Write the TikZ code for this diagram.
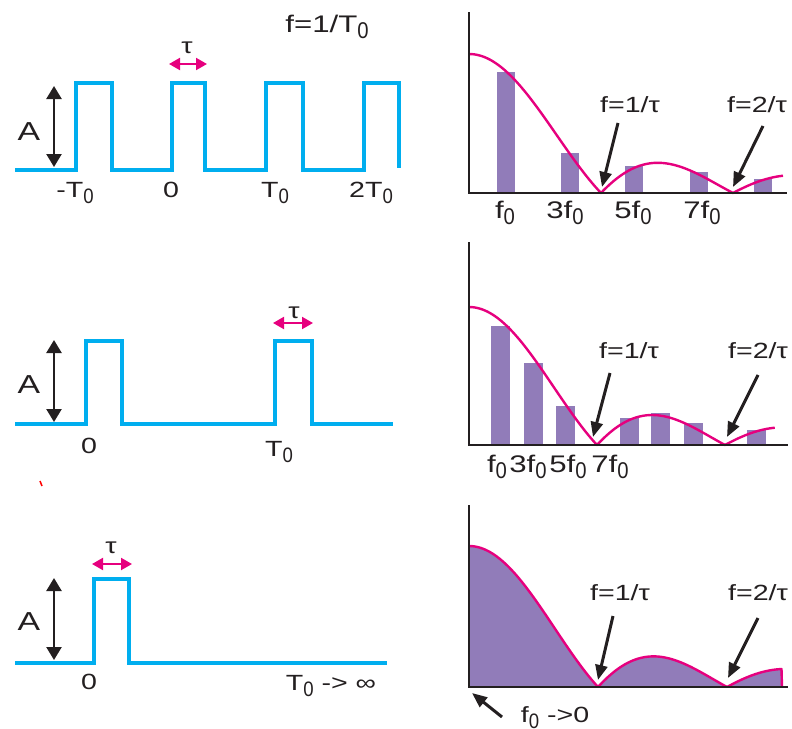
\documentclass[tikz,border=0pt]{standalone}
\usepackage{fontspec}
\setmainfont{Liberation Sans}[FakeStretch=1.3]
\usetikzlibrary{arrows.meta}
\definecolor{pulsecyan}{RGB}{0,174,239}
\definecolor{curvemag}{RGB}{230,0,126}
\definecolor{barpurple}{RGB}{145,124,185}
\definecolor{inkgray}{RGB}{35,31,32}
\newcommand\sbz[1]{\raisebox{-6pt}{\scalebox{0.65}[0.95]{#1}}}
\newcommand\lblfont{\fontsize{22}{24}\selectfont}
\newcommand\bigfont{\fontsize{26}{28}\selectfont}
\newcommand\frqfont{\fontsize{24}{26}\selectfont}
\tikzset{
  pulse/.style={line width=3.3pt, draw=pulsecyan},
  axis/.style={line width=2.4pt, draw=inkgray},
  amp/.style={line width=2.4pt, draw=inkgray, {Triangle[length=13pt,width=15pt]}-{Triangle[length=13pt,width=15pt]}},
  tauarrow/.style={line width=2pt, draw=curvemag, fill=curvemag, {Triangle[length=11pt,width=12pt]}-{Triangle[length=11pt,width=12pt]}},
  sinc/.style={line width=2.4pt, draw=curvemag, line join=round},
  bar/.style={fill=barpurple},
  pointer/.style={line width=3pt, draw=inkgray, -{Triangle[length=15pt,width=12pt]}},
  lbl/.style={inner sep=0pt, anchor=base, text=inkgray, font=\lblfont},
}
\begin{document}
\begin{tikzpicture}[x=1pt,y=-1pt]
\useasboundingbox (0,0) rectangle (792,728);
\clip (0,0) rectangle (792,728);

% periodic pulse train
\draw[pulse] (15,170) -| (76,83) -| (112,170) -| (172,83) -| (205,170) -| (266,83) -| (303,170) -| (364,83) -| (399,168);
\draw[amp] (54,86) -- (54,167);
\node[lbl,font=\bigfont] (amp1) at (29,140) {A};
\draw[tauarrow] (169,64) -- (207,64);
\node[lbl] (tau1) at (187,53) {τ};
\node[lbl,font=\frqfont] (rate1) at (327,32) {f=1/T\sbz0};
\node[lbl] (tm1) at (75,197) {-T\sbz0};
\node[lbl] (tz1) at (171,197) {0};
\node[lbl] (tp1) at (275,197) {T\sbz0};
\node[lbl] (tp2) at (371,197) {2T\sbz0};

% its line spectrum
\foreach \c/\t in {506/72,570/153,634/166,699/172,763/179}
  \fill[bar] (\c-9,193) rectangle (\c+9,\t);
\draw[sinc] plot[domain=0.0001:2.3801,samples=239] ({469+132*\x},{193-139*abs(sin(180*\x)/(pi*\x))});
\draw[axis] (469,12) |- (787,193);
\node[lbl] (fz1) at (630,112) {f=1/τ};
\node[lbl] (fz2) at (757,112) {f=2/τ};
\coordinate (z11) at (602,187);
\coordinate (z12) at (733,187);
\draw[pointer] (618,123) -- (z11);
\draw[pointer] (763,126) -- (z12);
\node[lbl,font=\frqfont] (h1) at (505,218) {f\sbz0};
\node[lbl,font=\frqfont] (h3) at (565,218) {3f\sbz0};
\node[lbl,font=\frqfont] (h5) at (633,218) {5f\sbz0};
\node[lbl,font=\frqfont] (h7) at (702,218) {7f\sbz0};

% longer period
\draw[pulse] (15,424) -| (86,341) -| (122,424) -| (275,341) -| (312,424) -- (393,424);
\draw[amp] (54,340) -- (54,422);
\node[lbl,font=\bigfont] (amp2) at (29,393) {A};
\draw[tauarrow] (273,323) -- (313,323);
\node[lbl] (tau2) at (294,318) {τ};
\node[lbl] (tz2) at (89,453) {0};
\node[lbl] (tp3) at (279,456) {T\sbz0};
\draw[red, line width=1.5pt] (40,481) -- (42,486);

\foreach \c/\t in {500/326,533/363,565/406,629/418,660/413,693/423,756/430}
  \fill[bar] (\c-9.5,445) rectangle (\c+9.5,\t);
\draw[sinc] plot[domain=0.0001:2.3901,samples=240] ({469+128*\x},{445-138*abs(sin(180*\x)/(pi*\x))});
\draw[axis] (469,242) |- (788,445);
\node[lbl] (fz3) at (629,358) {f=1/τ};
\node[lbl] (fz4) at (758,358) {f=2/τ};
\coordinate (z21) at (593,437);
\coordinate (z22) at (727,437);
\draw[pointer] (610,373) -- (z21);
\draw[pointer] (758,375) -- (z22);
\node[lbl,font=\frqfont] (h1b) at (497,472) {f\sbz0};
\node[lbl,font=\frqfont] (h3b) at (528,472) {3f\sbz0};
\node[lbl,font=\frqfont] (h5b) at (568,472) {5f\sbz0};
\node[lbl,font=\frqfont] (h7b) at (610,472) {7f\sbz0};

% single pulse
\draw[pulse] (15,663) -| (94,579) -| (129,663) -- (387,663);
\draw[amp] (54,578) -- (54,660);
\node[lbl,font=\bigfont] (amp3) at (29,630) {A};
\draw[tauarrow] (92,564) -- (132,564);
\node[lbl] (tau3) at (111,553) {τ};
\node[lbl] (tz3) at (89,689) {0};
\node[lbl] (tinf) at (331,690) {T\sbz0 -> ∞};

% continuous spectrum
\fill[bar] (469,687) -- plot[domain=0.0001:2.4261,samples=243] ({469+129*\x},{687-141*abs(sin(180*\x)/(pi*\x))}) -- (782,687) -- cycle;
\draw[sinc] plot[domain=0.0001:2.4261,samples=243] ({469+129*\x},{687-141*abs(sin(180*\x)/(pi*\x))}) -- (782,687);
\draw[axis] (469,505) |- (788,687);
\node[lbl] (fz5) at (620,600) {f=1/τ};
\node[lbl] (fz6) at (758,600) {f=2/τ};
\coordinate (z31) at (598,680);
\coordinate (z32) at (728,678);
\coordinate (orig) at (472,693);
\draw[pointer] (613,616) -- (z31);
\draw[pointer] (758,618) -- (z32);
\draw[pointer] (502,717) -- (orig);
\node[lbl] (flim) at (555,722) {f\sbz0 ->0};
\end{tikzpicture}
\end{document}
